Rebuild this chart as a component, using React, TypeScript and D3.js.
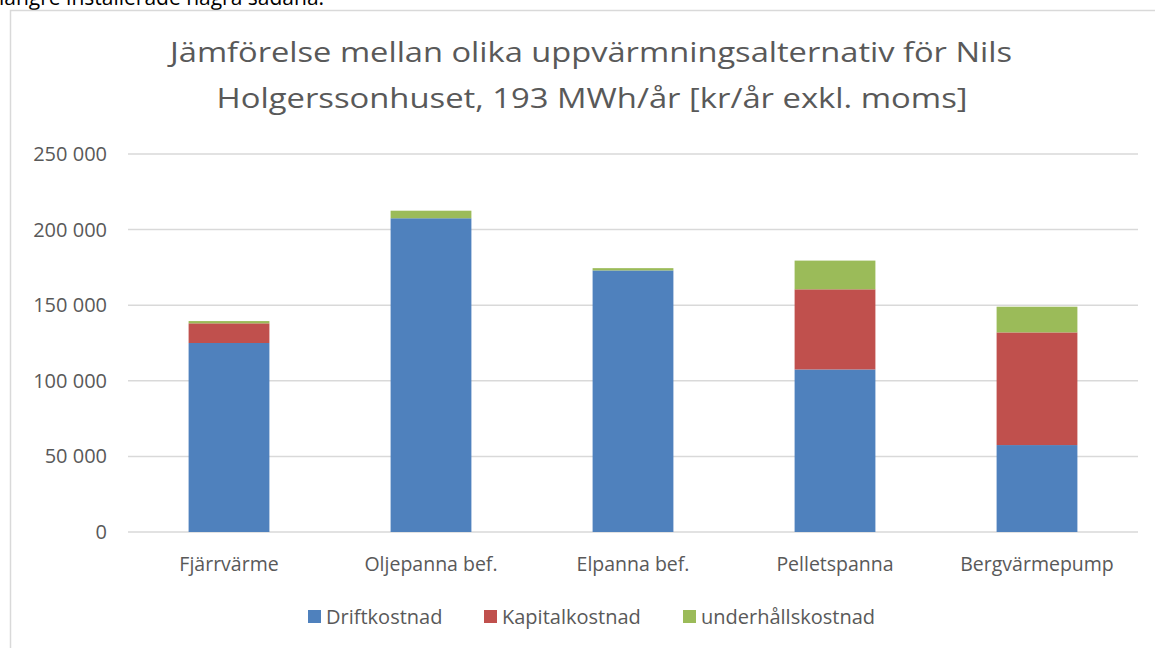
import React from "react";
import * as d3 from "d3";

const categories = ["Fjärrvärme", "Oljepanna bef.", "Elpanna bef.", "Pelletspanna", "Bergvärmepump"];
const seriesNames = ["Driftkostnad", "Kapitalkostnad", "underhållskostnad"];
const driftkostnad = [125000, 207500, 173000, 107500, 57500];
const kapitalkostnad = [13000, 0, 0, 53000, 74500];
const underhallskostnad = [1500, 5000, 1500, 19000, 17000];
const yTicks = [0, 50000, 100000, 150000, 200000, 250000];
const colors = ["#4f81bd", "#c0504d", "#9bbb59"];

const W = 1155;
const H = 648;

export default function App() {
  const x = d3.scaleBand<string>().domain(categories).range([128, 1138]).paddingInner(0.6).paddingOuter(0.3);
  const y = d3.scaleLinear().domain([0, 250000]).range([532, 154]);
  const rows = categories.map((c, i) => ({
    cat: c,
    Driftkostnad: driftkostnad[i],
    Kapitalkostnad: kapitalkostnad[i],
    underhållskostnad: underhallskostnad[i],
  }));
  const stacked = d3.stack<any>().keys(seriesNames)(rows);
  const fmt = (v: number) => d3.format(",")(v).replace(/,/g, " ");
  const font = "'Open Sans', Calibri, sans-serif";
  const legendX = [308, 484, 683];

  return (
    <svg width={W} height={H} style={{ position: "fixed", left: 0, top: 0, background: "#fff" }} fontFamily={font}>
      <rect x={0} y={0} width={W} height={H} fill="#fff" />
      <text x={-1} y={5} fontSize={21} fill="#000">längre installerade några sådana.</text>
      <rect x={10.5} y={10.5} width={1200} height={700} fill="#fff" stroke="#d9d9d9" strokeWidth={1.5} />
      <g fill="#595959" textAnchor="middle" fontSize={28}>
        <text x={591} y={62} textLength={842} lengthAdjust="spacingAndGlyphs">Jämförelse mellan olika uppvärmningsalternativ för Nils</text>
        <text x={592} y={108} textLength={751} lengthAdjust="spacingAndGlyphs">Holgerssonhuset, 193 MWh/år [kr/år exkl. moms]</text>
      </g>
      <g>
        {yTicks.map((t) => (
          <g key={t}>
            <line x1={128} x2={1138} y1={y(t)} y2={y(t)} stroke="#d9d9d9" strokeWidth={1.5} />
            <text x={107} y={y(t) + 7} textAnchor="end" fontSize={20} fill="#595959">{fmt(t)}</text>
          </g>
        ))}
      </g>
      <g>
        {stacked.map((s, si) => (
          <g key={s.key} fill={colors[si]}>
            {s.map((d: any, i: number) => (
              d[1] - d[0] > 0 ? (
                <rect key={i} x={x(categories[i])} y={y(d[1])} width={x.bandwidth()} height={y(d[0]) - y(d[1])} />
              ) : null
            ))}
          </g>
        ))}
      </g>
      <g>
        {categories.map((c) => (
          <text key={c} x={(x(c) as number) + x.bandwidth() / 2} y={571} textAnchor="middle" fontSize={19.5} fill="#595959">{c}</text>
        ))}
      </g>
      <g>
        {seriesNames.map((n, i) => (
          <g key={n}>
            <rect x={legendX[i]} y={610} width={13} height={13} fill={colors[i]} />
            <text x={legendX[i] + 18} y={624} fontSize={20} fill="#595959">{n}</text>
          </g>
        ))}
      </g>
    </svg>
  );
}
